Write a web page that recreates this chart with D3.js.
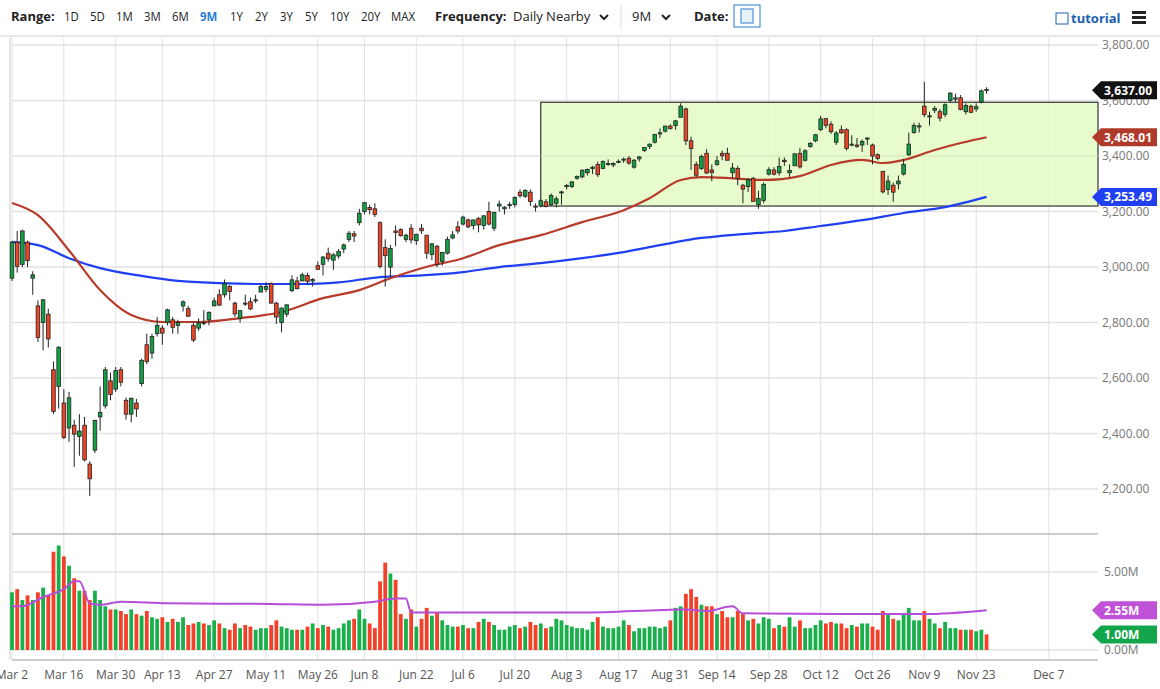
<!DOCTYPE html>
<html><head><meta charset="utf-8">
<script src="https://cdn.jsdelivr.net/npm/d3@7"></script>
<style>
body{margin:0;background:#fff;font-family:"Open Sans",sans-serif;}
svg{display:block}
</style></head>
<body><svg id="chart" width="1160" height="689"></svg>
<script>
"use strict"

// [open, high, low, close] per trading day, one array per month
const mar = [[2960,3095,2950,3090],[3090,3130,2980,3003],[3010,3135,3000,3130],[3090,3095,3000,3023],[2960,2985,2900,2972],
 [2860,2880,2730,2746],[2800,2885,2700,2882],[2830,2850,2710,2741],[2630,2660,2470,2480],[2570,2715,2490,2711],
 [2510,2560,2380,2386],[2420,2550,2370,2529],[2430,2450,2280,2398],[2390,2470,2320,2409],[2430,2460,2300,2305],
 [2290,2300,2175,2237],[2340,2450,2330,2447],[2460,2570,2410,2476],[2500,2640,2490,2630],[2590,2620,2520,2541],
 [2560,2640,2550,2627],[2630,2640,2570,2585]];
const apr = [[2520,2530,2450,2470],[2470,2530,2440,2527],[2510,2525,2460,2489],[2580,2670,2570,2664],[2720,2760,2650,2659],
 [2690,2760,2670,2750],[2760,2820,2750,2790],[2780,2790,2720,2762],[2800,2850,2790,2846],[2810,2820,2760,2783],
 [2790,2810,2760,2800],[2860,2880,2840,2875],[2850,2860,2820,2823],[2790,2800,2730,2737],[2780,2815,2770,2799],
 [2800,2845,2790,2798],[2810,2840,2790,2837],[2860,2890,2860,2878],[2900,2920,2860,2863],[2900,2955,2890,2940],
 [2930,2935,2880,2912]];
const may = [[2870,2875,2820,2831],[2815,2845,2800,2843],[2870,2900,2860,2868],[2875,2890,2845,2849],[2880,2900,2870,2882],
 [2910,2935,2910,2930],[2920,2945,2910,2930],[2940,2945,2870,2870],[2870,2875,2795,2820],[2800,2855,2765,2852],
 [2830,2865,2820,2864],[2915,2970,2910,2954],[2950,2965,2920,2922],[2950,2980,2950,2972],[2970,2980,2940,2949],
 [2950,2960,2930,2955],[3005,3020,2990,2992],[3010,3040,2970,3036],[3050,3070,3020,3030],[3025,3050,2990,3044]];
const jun = [[3040,3065,3030,3056],[3065,3085,3050,3080],[3100,3130,3090,3122],[3120,3130,3090,3112],[3160,3210,3150,3194],
 [3200,3235,3190,3232],[3215,3225,3190,3207],[3210,3230,3180,3190],[3160,3165,2995,3002],[3070,3100,2930,3041],
 [3000,3080,2965,3067],[3130,3150,3075,3125],[3135,3140,3110,3113],[3100,3120,3090,3115],[3140,3155,3085,3098],
 [3095,3120,3080,3118],[3140,3155,3120,3131],[3115,3115,3030,3050],[3045,3085,3025,3084],[3075,3080,3000,3009],
 [3020,3055,3005,3053],[3050,3110,3045,3100]];
const jul = [[3105,3130,3100,3116],[3145,3165,3120,3130],[3155,3185,3150,3180],[3170,3175,3140,3145],[3150,3170,3135,3170],
 [3175,3180,3125,3152],[3150,3185,3135,3185],[3200,3235,3150,3155],[3140,3200,3130,3197],[3220,3240,3200,3227],
 [3210,3220,3190,3216],[3225,3235,3210,3225],[3225,3255,3215,3251],[3270,3280,3250,3257],[3255,3280,3250,3276],
 [3270,3280,3220,3236],[3220,3230,3200,3216],[3220,3245,3215,3239],[3235,3245,3215,3218],[3225,3265,3220,3258],
 [3230,3255,3215,3246],[3270,3275,3225,3271]];
const aug = [[3290,3300,3280,3294],[3290,3310,3285,3307],[3320,3330,3315,3327],[3325,3352,3320,3349],[3340,3355,3330,3352],
 [3355,3365,3335,3360],[3370,3380,3325,3333],[3355,3385,3355,3380],[3372,3388,3365,3373],[3368,3378,3360,3373],
 [3380,3388,3375,3381],[3388,3395,3375,3389],[3392,3400,3368,3375],[3360,3390,3355,3385],[3390,3400,3380,3397],
 [3420,3432,3415,3431],[3435,3445,3425,3443],[3450,3480,3445,3478],[3480,3500,3465,3484],[3490,3510,3485,3508],
 [3508,3515,3495,3500]];
const sep = [[3510,3530,3495,3527],[3540,3590,3540,3580],[3570,3575,3440,3455],[3455,3470,3350,3427],[3370,3380,3325,3331],
 [3355,3405,3350,3399],[3410,3425,3335,3339],[3350,3370,3310,3341],[3370,3400,3365,3383],[3410,3420,3385,3401],
 [3410,3430,3385,3385],[3340,3375,3320,3357],[3355,3365,3295,3319],[3295,3300,3230,3281],[3290,3320,3270,3315],
 [3320,3325,3235,3237],[3225,3275,3210,3247],[3240,3305,3230,3298],[3335,3360,3330,3351],[3350,3360,3330,3335],
 [3340,3395,3330,3363]];
const oct = [[3385,3395,3365,3380],[3340,3370,3325,3348],[3365,3410,3365,3408],[3410,3430,3355,3361],[3385,3425,3380,3419],
 [3435,3450,3430,3446],[3455,3480,3450,3477],[3495,3545,3490,3534],[3535,3535,3500,3511],[3515,3525,3480,3488],
 [3450,3490,3440,3483],[3495,3510,3480,3484],[3495,3500,3420,3427],[3440,3475,3435,3443],[3440,3465,3430,3435],
 [3440,3460,3415,3453],[3465,3468,3440,3465],[3440,3445,3370,3400],[3405,3410,3385,3391],[3345,3345,3265,3271],
 [3280,3330,3260,3310],[3295,3305,3235,3270]];
const nov = [[3300,3330,3280,3310],[3335,3390,3330,3370],[3405,3485,3400,3443],[3485,3520,3480,3510],[3505,3520,3485,3509],
 [3580,3668,3540,3550],[3545,3560,3510,3545],[3565,3580,3555,3572],[3560,3570,3525,3537],[3550,3590,3540,3585],
 [3600,3630,3595,3627],[3605,3625,3595,3610],[3610,3620,3565,3568],[3560,3590,3550,3582],[3580,3585,3555,3558],
 [3570,3590,3560,3578],[3595,3640,3590,3635],[3640,3648,3625,3637]];

// volume in millions, per trading day
const volMar = [3.7,3.9,3.2,3.5,3.2,3.7,4.0,3.5,6.3,6.7,6.0,5.4,4.6,3.8,3.8,3.2,3.8,3.2,2.8,2.6,2.6,2.5];
const volApr = [2.3,2.6,2.3,2.2,2.5,2.1,2.0,2.1,1.8,2.0,1.8,2.1,1.6,1.7,1.8,1.7,1.6,1.9,1.7,1.4,1.3];
const volMay = [1.7,1.4,1.6,1.5,1.3,1.4,1.4,1.6,1.9,1.5,1.4,1.3,1.3,1.3,1.5,1.7,1.4,1.6,1.5,1.3];
const volJun = [1.4,1.7,1.9,2.0,2.6,2.0,1.7,1.4,4.4,5.6,4.9,4.5,2.3,2.0,2.6,1.5,2.0,2.7,2.2,2.4,1.9,1.6];
const volJul = [1.5,1.5,1.6,1.4,1.4,1.8,2.0,1.8,1.6,1.3,1.3,1.5,1.6,1.4,1.5,1.8,1.6,1.7,1.4,1.5,2.0,1.9];
const volAug = [1.6,1.5,1.4,1.4,1.3,1.8,2.1,1.5,1.4,1.4,1.5,1.9,1.6,1.2,1.4,1.4,1.5,1.5,1.4,1.5,1.9];
const volSep = [2.7,2.8,3.6,3.9,3.4,2.9,2.8,2.8,2.3,2.5,2.1,2.1,2.5,2.3,1.9,2.0,1.7,2.1,2.0,1.4,1.6];
const volOct = [1.5,2.1,1.5,1.9,1.4,1.4,1.6,1.9,1.7,1.8,1.7,1.7,1.4,1.6,1.5,1.7,1.7,1.5,1.3,2.5,2.3,2.0];
const volNov = [1.9,2.3,2.7,1.9,1.9,2.5,2.0,1.7,1.4,1.8,1.4,1.4,1.3,1.3,1.3,1.2,1.3,1.0];

// moving averages: [day index, value]
const ma50 = [[0,3231],[5,3187],[11,3060],[17,2917],[23,2827],[29,2802],[36,2802],[44,2816],[52,2838],[60,2888],
 [67,2917],[73,2960],[79,2996],[87,3032],[94,3079],[102,3115],[110,3162],[118,3205],[123,3248],[129,3314],
 [133,3324],[139,3320],[145,3314],[152,3328],[158,3368],[164,3386],[168,3375],[172,3386],[178,3422],[183,3447],[188,3468]];
const ma200 = [[0,3090],[5,3079],[11,3032],[17,2996],[25,2968],[32,2950],[40,2942],[48,2939],[56,2939],[63,2945],
 [71,2964],[79,2970],[87,2982],[94,3000],[102,3014],[110,3032],[118,3054],[125,3079],[133,3105],[141,3119],
 [149,3130],[156,3148],[164,3169],[172,3195],[180,3216],[188,3253]];
const volMa = [[0,2.8],[2,2.8],[6,3.4],[10,3.9],[12,4.4],[13,4.4],[15,3.0],[17,2.9],[21,3.1],[30,3.0],[50,2.95],
 [60,2.9],[70,3.1],[74,3.3],[76,3.3],[77,2.4],[90,2.4],[110,2.4],[130,2.6],[134,2.5],[139,2.8],[141,2.35],
 [160,2.3],[176,2.3],[188,2.55]];

const holidays = ["2020-04-10","2020-05-25","2020-07-03","2020-09-07","2020-11-26"];
const tickDates = ["Mar 2","Mar 16","Mar 30","Apr 13","Apr 27","May 11","May 26","Jun 8","Jun 22","Jul 6","Jul 20",
 "Aug 3","Aug 17","Aug 31","Sep 14","Sep 28","Oct 12","Oct 26","Nov 9","Nov 23","Dec 7"];
const priceTicks = [2200,2400,2600,2800,3000,3200,3400,3600,3800];
const volTicks = [0,5];
const rangeBtns = ["1D","5D","1M","3M","6M","9M","1Y","2Y","3Y","5Y","10Y","20Y","MAX"];
const channel = {from: 102, top: 3594, bottom: 3220};

const ohlc = [].concat(mar, apr, may, jun, jul, aug, sep, oct, nov);
const vols = [].concat(volMar, volApr, volMay, volJun, volJul, volAug, volSep, volOct, volNov);

// trading day index for each date label (calendar days after the last bar)
const fmt = d3.timeFormat("%b %-d"), iso = d3.timeFormat("%Y-%m-%d");
const dayIndex = {};
let idx = 0;
for (let d = new Date(2020, 2, 2); d <= new Date(2020, 11, 10); d = d3.timeDay.offset(d, 1)) {
    const wd = d.getDay();
    if (idx < ohlc.length) {
        if (wd == 0 || wd == 6 || holidays.includes(iso(d))) continue;
        dayIndex[fmt(d)] = idx++;
    } else {
        dayIndex[fmt(d)] = idx++;
    }
}

const svg = d3.select("#chart");
const L = 12, R = 1098, mainTop = 38, mainBot = 530, volTop = 538, volBot = 660;
const x = d3.scaleLinear().domain([0, 209.5]).range([L, R]);
const y = d3.scaleLinear().domain([2100, 3840]).range([516.8, 34]);
const yv = d3.scaleLinear().domain([0, 5]).range([650, 572]);
const GRID = "#e2e2e2", GREEN = "#11a043", RED = "#ee4424";

// toolbar
const bar = svg.append("g").attr("font-size", 13).attr("fill", "#222");
bar.append("text").attr("x", 11).attr("y", 21).attr("font-weight", "bold").text("Range:");
const btnX = [64, 90, 116, 144, 172, 200, 230, 255, 280, 305, 330, 361, 391];
rangeBtns.forEach((b, i) => {
    bar.append("text").attr("x", btnX[i]).attr("y", 21).text(b)
        .attr("fill", b == "9M" ? "#2a7fd4" : "#222").attr("font-weight", b == "9M" ? "bold" : "normal")
        .attr("transform", `translate(${btnX[i]},0) scale(0.88,1) translate(${-btnX[i]},0)`);
});
bar.append("text").attr("x", 435).attr("y", 21).attr("font-weight", "bold").text("Frequency:");
bar.append("text").attr("x", 513).attr("y", 21).text("Daily Nearby");
bar.append("path").attr("d", "M600,15 l4,4 l4,-4").attr("fill", "none").attr("stroke", "#222").attr("stroke-width", 2);
bar.append("line").attr("x1", 621).attr("x2", 621).attr("y1", 5).attr("y2", 30).attr("stroke", "#ddd");
bar.append("text").attr("x", 632).attr("y", 21).text("9M");
bar.append("path").attr("d", "M662,15 l4,4 l4,-4").attr("fill", "none").attr("stroke", "#222").attr("stroke-width", 2);
bar.append("text").attr("x", 694).attr("y", 21).attr("font-weight", "bold").text("Date:");
bar.append("rect").attr("x", 734).attr("y", 5).attr("width", 26).attr("height", 22).attr("fill", "#fff").attr("stroke", "#2a7fd4");
bar.append("rect").attr("x", 741).attr("y", 9).attr("width", 12).attr("height", 14).attr("fill", "#e8f0fa").attr("stroke", "#2a7fd4");
bar.append("rect").attr("x", 1056).attr("y", 13).attr("width", 12).attr("height", 11).attr("fill", "none").attr("stroke", "#1b5fb0");
bar.append("text").attr("x", 1071).attr("y", 23).attr("fill", "#1b5fb0").attr("font-weight", "bold").text("tutorial");
[12, 17, 22].forEach(v => bar.append("rect").attr("x", 1132).attr("y", v - 1).attr("width", 14).attr("height", 3).attr("fill", "#222"));
svg.append("line").attr("x1", 0).attr("x2", 1160).attr("y1", 36).attr("y2", 36).attr("stroke", "#ccc");

// grid
const grid = svg.append("g");
tickDates.forEach(t => grid.append("line").attr("x1", x(dayIndex[t])).attr("x2", x(dayIndex[t]))
    .attr("y1", mainTop).attr("y2", volBot).attr("stroke", GRID));
priceTicks.forEach(p => grid.append("line").attr("x1", L).attr("x2", R).attr("y1", y(p)).attr("y2", y(p)).attr("stroke", GRID).attr("stroke-width", 1.5));
volTicks.forEach(v => grid.append("line").attr("x1", L).attr("x2", R).attr("y1", yv(v)).attr("y2", yv(v)).attr("stroke", GRID).attr("stroke-width", 1.5));
grid.append("line").attr("x1", 10).attr("x2", 10).attr("y1", mainTop).attr("y2", volBot).attr("stroke", "#ccc");
grid.append("line").attr("x1", L).attr("x2", R).attr("y1", 534).attr("y2", 534).attr("stroke", "#ccc").attr("stroke-width", 2);
grid.append("line").attr("x1", L).attr("x2", R).attr("y1", volBot).attr("y2", volBot).attr("stroke", "#ccc").attr("stroke-width", 2);

// channel box
svg.append("rect").attr("x", x(channel.from)).attr("y", y(channel.top))
    .attr("width", R - x(channel.from)).attr("height", y(channel.bottom) - y(channel.top))
    .attr("fill", "#e4fbc6").attr("fill-opacity", 0.9).attr("stroke", "#333").attr("stroke-width", 1.2);
priceTicks.filter(p => p > channel.bottom && p < channel.top).forEach(p =>
    svg.append("line").attr("x1", x(channel.from)).attr("x2", R).attr("y1", y(p)).attr("y2", y(p)).attr("stroke", "#d6e8c0"));

// moving averages
const line = d3.line().x(d => x(d[0])).y(d => y(d[1])).curve(d3.curveMonotoneX);
svg.append("path").attr("d", line(ma200)).attr("fill", "none").attr("stroke", "#1f3ff0").attr("stroke-width", 2.2);
svg.append("path").attr("d", line(ma50)).attr("fill", "none").attr("stroke", "#b83a2a").attr("stroke-width", 2.2);

// candles
const cw = 3.6;
const cg = svg.append("g").selectAll("g").data(ohlc).join("g");
cg.append("line").attr("x1", (d, i) => x(i)).attr("x2", (d, i) => x(i))
    .attr("y1", d => y(d[1])).attr("y2", d => y(d[2])).attr("stroke", "#222").attr("stroke-width", 1);
cg.append("rect").attr("x", (d, i) => x(i) - cw / 2).attr("width", cw)
    .attr("y", d => y(Math.max(d[0], d[3])))
    .attr("height", d => Math.max(1, Math.abs(y(d[0]) - y(d[3]))))
    .attr("fill", d => d[3] >= d[0] ? GREEN : RED).attr("stroke", "#222").attr("stroke-width", 0.8);

// volume
svg.append("g").selectAll("rect").data(vols).join("rect")
    .attr("x", (d, i) => x(i) - 1.9).attr("width", 3.8)
    .attr("y", d => yv(d)).attr("height", d => yv(0) - yv(d))
    .attr("fill", (d, i) => ohlc[i][3] >= ohlc[i][0] ? "#19b04b" : "#f3402a");
const vline = d3.line().x(d => x(d[0])).y(d => yv(d[1])).curve(d3.curveMonotoneX);
svg.append("path").attr("d", vline(volMa)).attr("fill", "none").attr("stroke", "#b54ed6").attr("stroke-width", 2);

// right axes
const ax = svg.append("g").attr("font-size", 12).attr("fill", "#777");
priceTicks.forEach(p => ax.append("text").attr("x", 1102).attr("y", y(p) + 4).text(d3.format(",.2f")(p)));
volTicks.forEach(v => ax.append("text").attr("x", 1104).attr("y", yv(v) + 4).text(v.toFixed(2) + "M"));

function badge(yy, txt, col) {
    const g = svg.append("g");
    g.append("path").attr("d", `M1092,${yy} l9,-9 h56 v18 h-56 z`).attr("fill", col);
    g.append("text").attr("x", 1104).attr("y", yy + 4.5).attr("fill", "#fff").attr("font-size", 12)
        .attr("font-weight", "bold").text(txt);
}
const last = ohlc[ohlc.length - 1][3];
badge(y(last), d3.format(",.2f")(last), "#111");
badge(y(ma50[ma50.length - 1][1]), d3.format(",.2f")(3468.01), "#b03a2a");
badge(y(ma200[ma200.length - 1][1]), d3.format(",.2f")(3253.49), "#1f3ff0");
badge(yv(volMa[volMa.length - 1][1]), "2.55M", "#c052d8");
badge(yv(vols[vols.length - 1]), "1.00M", "#12a54a");

// x labels
svg.append("g").attr("font-size", 12).attr("fill", "#555").selectAll("text").data(tickDates).join("text")
    .attr("x", d => x(dayIndex[d])).attr("y", 679).attr("text-anchor", "middle").text(d => d);
</script></body></html>
